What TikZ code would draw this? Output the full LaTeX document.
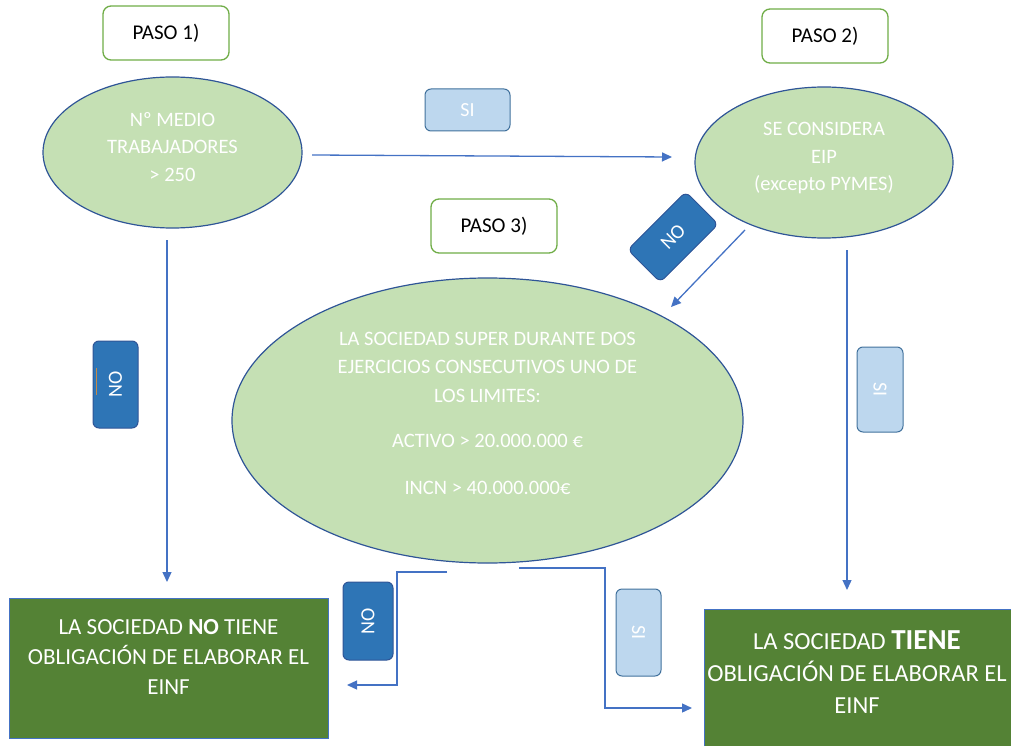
\documentclass[tikz,border=0pt]{standalone}
\usepackage{fontspec}
\setmainfont{Carlito}
\usetikzlibrary{shapes.geometric,arrows.meta}
\definecolor{elfill}{HTML}{C5E0B4}
\definecolor{elline}{HTML}{2F5597}
\definecolor{arrowc}{HTML}{4472C4}
\definecolor{pasoline}{HTML}{70AD47}
\definecolor{darkgreen}{HTML}{548235}
\definecolor{nofill}{HTML}{2E75B6}
\definecolor{noline}{HTML}{2F5597}
\definecolor{sifill}{HTML}{BDD7EE}
\definecolor{siline}{HTML}{41719C}
\definecolor{artifact}{HTML}{C58A4A}
\begin{document}
\begin{tikzpicture}[x=1pt,y=-1pt,
 pasobox/.style={draw=pasoline,line width=1.3pt,fill=white,rounded corners=8pt,minimum width=126pt,minimum height=54pt,inner sep=0pt,font=\fontsize{21}{25}\selectfont,text=black},
 elbox/.style={ellipse,draw=elline,line width=1.2pt,fill=elfill,inner sep=0pt},
 eltext/.style={text=white,align=center,font=\fontsize{20.5}{27.5}\selectfont},
 nobox/.style={draw=noline,fill=nofill,rounded corners=6pt,line width=1pt,text=white,font=\fontsize{20}{24}\selectfont,inner sep=0pt},
 sibox/.style={draw=siline,fill=sifill,rounded corners=6pt,line width=1pt,text=white,font=\fontsize{20}{24}\selectfont,inner sep=0pt},
 arr/.style={draw=arrowc,line width=1.3pt,-{Triangle[length=10pt,width=9pt]}},
 resbox/.style={draw=arrowc,fill=darkgreen,line width=1pt,inner sep=0pt},
 restext/.style={text=white,align=center}
]
\useasboundingbox (0,0) rectangle (1011,746);

% step boxes
\node[pasobox] (p1) at (166,33) {PASO 1)};
\node[pasobox] (p2) at (825,36) {PASO 2)};
\node[pasobox] (p3) at (494,226) {PASO 3)};

% ellipses
\node[elbox,minimum width=259pt,minimum height=151pt] (e1) at (172.5,152.5) {};
\node[eltext] (t1) at (172.5,147) {Nº MEDIO\\TRABAJADORES\\> 250};
\node[elbox,minimum width=258pt,minimum height=151pt] (e2) at (824,162.5) {};
\node[eltext] (t2) at (824,158) {SE CONSIDERA\\EIP\\(excepto PYMES)};
\node[elbox,minimum width=511pt,minimum height=285pt] (e3) at (487.5,420.5) {};
\node[eltext,font=\fontsize{20.5}{28.5}\selectfont] (t3) at (487.5,413) {LA SOCIEDAD SUPER DURANTE DOS\\EJERCICIOS CONSECUTIVOS UNO DE\\LOS LIMITES:\\[17pt]ACTIVO > 20.000.000 €\\[18pt]INCN > 40.000.000€};

% result boxes
\node[resbox,minimum width=319pt,minimum height=140pt] (r1) at (168.5,668) {};
\node[restext,font=\fontsize{23}{30}\selectfont] (rt1) at (168.5,657) {LA SOCIEDAD \textbf{NO} TIENE\\OBLIGACIÓN DE ELABORAR EL\\EINF};
\node[resbox,anchor=north west,minimum width=320pt,minimum height=150pt] (r2) at (704,609) {};
\node[restext,font=\fontsize{24.5}{32}\selectfont] (rt2) at (857,672) {LA SOCIEDAD {\fontsize{29}{32}\selectfont\bfseries TIENE}\\OBLIGACIÓN DE ELABORAR EL\\EINF};

% connector end points
\coordinate (a1s) at (312,155);
\coordinate (a1e) at (672,157);
\coordinate (a2s) at (745,230);
\coordinate (a2e) at (671,307);
\coordinate (a3s) at (167,240);
\coordinate (a3e) at (167,582);
\coordinate (a4s) at (847,250);
\coordinate (a4e) at (847,590);
\coordinate (a5s) at (447,572);
\coordinate (a5e) at (347,685);
\coordinate (a6s) at (519,568);
\coordinate (a6e) at (692,708);

\draw[arr] (a1s) -- (a1e);
\draw[arr] (a2s) -- (a2e);
\draw[arr] (a3s) -- (a3e);
\draw[arr] (a4s) -- (a4e);
\draw[arr] (a5s) -- (397,572) -- (397,685) -- (a5e);
\draw[arr] (a6s) -- (605,568) -- (605,708) -- (a6e);

% labels: NO reads upward, SI reads downward
\node[sibox,minimum width=85pt,minimum height=42pt] (si1) at (467.5,110) {SI};
\node[nobox,minimum width=82pt,minimum height=46pt,rotate=45] (no1) at (673,237) {NO};
\node[nobox,minimum width=87pt,minimum height=45pt,rotate=90] (no2) at (115.5,384.5) {NO};
\node[sibox,minimum width=85pt,minimum height=46pt,rotate=-90] (si2) at (880,389.5) {SI};
\node[nobox,minimum width=78pt,minimum height=50pt,rotate=90] (no3) at (368,621) {NO};
\node[sibox,minimum width=87pt,minimum height=45pt,rotate=-90] (si3) at (638.5,632.5) {SI};
\draw[artifact,line width=0.8pt] (96,368) -- (96,395);
\end{tikzpicture}
\end{document}
